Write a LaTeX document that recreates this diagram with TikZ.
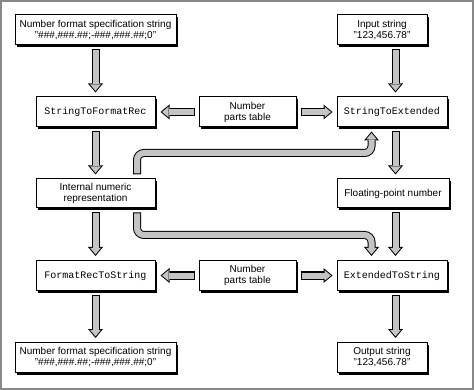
\documentclass[tikz,border=0pt]{standalone}
\usepackage{fontspec}
\setmainfont{Liberation Sans}
\setmonofont{Liberation Mono}
\usetikzlibrary{arrows.meta,shadows}
\definecolor{arrowgray}{HTML}{C4C4C4}
\definecolor{framegray}{HTML}{888888}
\tikzset{
  box/.style={draw=black, line width=1pt, fill=white, inner sep=0pt, align=center,
    font=\fontsize{10}{11}\selectfont, minimum height=30pt,
    drop shadow={shadow xshift=2pt, shadow yshift=-2pt, fill=black, opacity=1}},
  fn/.style={font=\ttfamily\fontsize{10}{11}\selectfont},
  barout/.style={draw=black, line width=8pt, line cap=butt, rounded corners=7pt,
    -{Triangle[length=9pt,width=15pt,line width=0pt]}},
  barin/.style={draw=arrowgray, line width=6pt, line cap=butt, rounded corners=7pt,
    -{Triangle[length=6.4pt,width=10.7pt,line width=0pt]}},
}
\newcommand\blockarrow[5]{%
  \draw[barout, shorten <=#1, shorten >=#2] #5;
  \draw[barin, shorten <=#3, shorten >=#4] #5;
}
\begin{document}
\begin{tikzpicture}[x=1pt,y=-1pt]
\useasboundingbox (0,0) rectangle (474,390);
\draw[framegray, line width=2pt] (1,1) rectangle (473,389);

% column helpers
\coordinate (colL) at (95.5,0);
\coordinate (colC) at (137,0);
\coordinate (colD) at (371.5,0);
\coordinate (colR) at (395.5,0);
\coordinate (hyA) at (0,153);
\coordinate (hyB) at (0,235);

% boxes
\node[box, minimum width=161pt] (fmtA) at (95.5,30) {Number format specification string\\"\#\#\#,\#\#\#.\#\#;-\#\#\#,\#\#\#.\#\#;0"};
\node[box, minimum width=90pt] (inStr) at (382,30) {Input string\\"123,456.78"};
\node[box, fn, minimum width=119pt] (s2f) at (95.5,112) {StringToFormatRec};
\node[box, minimum width=97pt] (partsA) at (247.5,112) {Number\\parts table};
\node[box, fn, minimum width=110pt] (s2e) at (392,112) {StringToExtended};
\node[box, minimum width=119pt, minimum height=29pt] (inr) at (95.5,193.5) {Internal numeric\\representation};
\node[box, minimum width=112pt, minimum height=29pt] (flt) at (393,193.5) {Floating-point number};
\node[box, fn, minimum width=119pt] (f2s) at (95.5,275.5) {FormatRecToString};
\node[box, minimum width=97pt] (partsB) at (247.5,275.5) {Number\\parts table};
\node[box, fn, minimum width=110pt] (e2s) at (392,275.5) {ExtendedToString};
\node[box, minimum width=161pt] (fmtB) at (95.5,357.5) {Number format specification string\\"\#\#\#,\#\#\#.\#\#;-\#\#\#,\#\#\#.\#\#;0"};
\node[box, minimum width=90pt] (outStr) at (382,357.5) {Output string\\"123,456.78"};

% straight vertical arrows, left column
\blockarrow{4pt}{4pt}{5pt}{5.6pt}{(fmtA.south -| colL) -- (s2f.north -| colL)}
\blockarrow{4pt}{4pt}{5pt}{5.6pt}{(s2f.south -| colL) -- (inr.north -| colL)}
\blockarrow{4pt}{4pt}{5pt}{5.6pt}{(inr.south -| colL) -- (f2s.north -| colL)}
\blockarrow{4pt}{4pt}{5pt}{5.6pt}{(f2s.south -| colL) -- (fmtB.north -| colL)}

% straight vertical arrows, right column
\blockarrow{4pt}{4pt}{5pt}{5.6pt}{(inStr.south -| colR) -- (s2e.north -| colR)}
\blockarrow{4pt}{4pt}{5pt}{5.6pt}{(s2e.south -| colR) -- (flt.north -| colR)}
\blockarrow{4pt}{4pt}{5pt}{5.6pt}{(flt.south -| colR) -- (e2s.north -| colR)}
\blockarrow{4pt}{4pt}{5pt}{5.6pt}{(e2s.south -| colR) -- (outStr.north -| colR)}

% horizontal arrows from the parts tables
\blockarrow{4pt}{5pt}{5pt}{6.6pt}{(partsA.west) -- (s2f.east)}
\blockarrow{4pt}{4pt}{5pt}{5.6pt}{(partsA.east) -- (s2e.west)}
\blockarrow{4pt}{5pt}{5pt}{6.6pt}{(partsB.west) -- (f2s.east)}
\blockarrow{4pt}{4pt}{5pt}{5.6pt}{(partsB.east) -- (e2s.west)}

% bent arrows from the internal representation
\blockarrow{4pt}{4pt}{5pt}{5.6pt}{(inr.north -| colC) -- (colC |- hyA) -- (colD |- hyA) -- (s2e.south -| colD)}
\blockarrow{4pt}{4pt}{5pt}{5.6pt}{(inr.south -| colC) -- (colC |- hyB) -- (colD |- hyB) -- (e2s.north -| colD)}
\end{tikzpicture}
\end{document}
